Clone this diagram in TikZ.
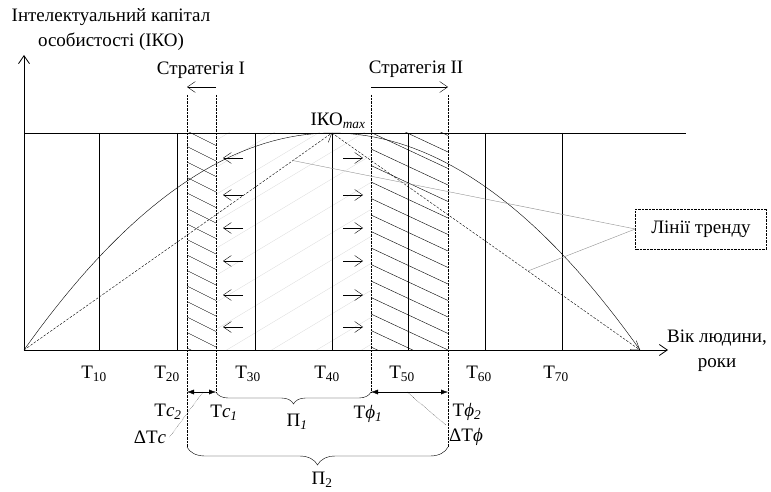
\documentclass[tikz,border=0pt]{standalone}
\usepackage{fontspec}
\setmainfont{Liberation Serif}
\usetikzlibrary{arrows.meta,decorations.pathreplacing}
\definecolor{trendgray}{RGB}{145,145,145}
\definecolor{hatchgray}{RGB}{222,222,222}

\begin{document}
\begin{tikzpicture}[x=1pt,y=-1pt,font=\fontsize{19}{25}\selectfont,
  dotline/.style={densely dotted,thin},
  dashline/.style={dash pattern=on 2.5pt off 1.5pt,thin},
  hatchline/.style={thin},
  tipopen/.style={-{Straight Barb[length=8pt,width=11pt]}},
  tipfull/.style={{Latex[length=7pt,width=5pt]}-{Latex[length=7pt,width=5pt]}},
  brc/.style={decorate,decoration={brace,amplitude=#1}}]
\useasboundingbox (0,0) rectangle (771,492);
\coordinate (o) at (24,350);
\coordinate (peak) at (332,133);
\coordinate (end) at (640,350);
\coordinate (c2) at (187,392); \coordinate (c1) at (216,392);
\coordinate (f1) at (371,392); \coordinate (f2) at (448,392);
\begin{scope}
\clip (217,133) rectangle (371,350);
\foreach \k in {0,...,14} \draw[hatchgray] (200,150+27*\k) -- (400,30+27*\k);
\end{scope}
\begin{scope}
\clip (187,133) rectangle (216,350);
\foreach \k in {0,...,16} \draw[hatchline] (187,100+15.5*\k) -- (217,115+15.5*\k);
\end{scope}
\begin{scope}
\clip (371,133) rectangle (448,350);
\foreach \k in {0,...,18} \draw[hatchline] (371,50+16.5*\k) -- (448,86+16.5*\k);
\end{scope}
\draw[thick,tipopen] (o) -- (24,55);
\draw[thick,tipopen] (o) -- (668,350);
\draw (24,133) -- (686,133);
\foreach \x in {99,177,255,332,408,485,562} \draw (\x,133) -- (\x,350);
\foreach \x/\yb in {187/447,216/392,371/392,448/447} \draw[dotline] (\x,95) -- (\x,\yb);
\draw plot[domain=24:640,samples=80] (\x,{133+217*((\x-332)/308)^2});
\draw[dashline,tipopen] (o) -- (peak);
\draw[dashline,tipopen] (peak) -- (end);
\path (o) -- (peak) coordinate[pos=0.873] (t1);
\path (peak) -- (end) coordinate[pos=0.636] (t2);
\foreach \y in {158,195,228,261,295,327} {
  \draw[tipopen] (243,\y) -- (223,\y);
  \draw[tipopen] (343,\y) -- (363,\y);
}
\node[align=center] (ylab) at (111,30) {Інтелектуальний капітал\\особистості (ІКО)};
\node (s1) at (201,70) {Стратегія I};
\draw[tipopen] (216,87) -- (187,87);
\node (s2) at (416,69) {Стратегія II};
\draw[tipopen] (371,87) -- (448,87);
\node (ikomax) at (338,121) {ІКО\textsubscript{\textit{max}}};
\node[draw,densely dotted,minimum width=131,minimum height=40] (trend) at (701,229) {Лінії тренду};
\draw[trendgray] (trend.west) -- (t1);
\draw[trendgray] (trend.west) -- (t2);
\node[align=center] (age) at (717,351) {Вік людини,\\роки};
\foreach \x/\t in {94/10,167/20,248/30,327/40,402/50,479/60,556/70}
  \node (T\t) at (\x,374) {T\textsubscript{\t}};
\draw[tipfull] (c2) -- (c1);
\draw[tipfull] (f1) -- (f2);
\draw[brc=12] (f1) -- (c1);
\draw[brc=18] (448,447) -- (187,447);
\node (tc2) at (168,412) {T\textit{c}\textsubscript{\textit{2}}};
\node (tc1) at (224,413) {T\textit{c}\textsubscript{\textit{1}}};
\node (tf1) at (368,414) {T\textit{ϕ}\textsubscript{\textit{1}}};
\node (tf2) at (467,412) {T\textit{ϕ}\textsubscript{\textit{2}}};
\node (p1) at (297,422) {Π\textsubscript{\textit{1}}};
\node (p2) at (322,480) {Π\textsubscript{2}};
\node (dtc) at (150,437) {ΔT\textit{c}};
\node (dtf) at (466,437) {ΔT\textit{ϕ}};
\draw[dotline] (dtc.east) -- (203,392);
\draw[dotline] (dtf.north west) -- (407,392);
\end{tikzpicture}
\end{document}
